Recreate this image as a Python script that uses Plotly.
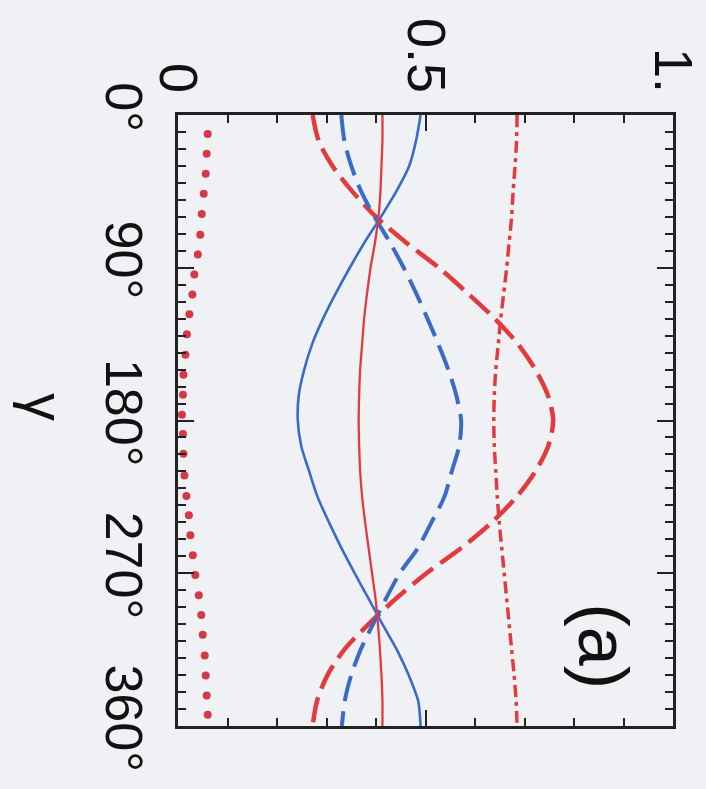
import plotly.graph_objects as go

# ---- data ----
gamma = [0, 15, 30, 45, 60, 75, 90, 105, 120, 135, 150, 165, 180,
         195, 210, 225, 240, 255, 270, 285, 300, 315, 330, 345, 360]

blue_solid = [0.490, 0.481, 0.467, 0.441, 0.410, 0.377, 0.347, 0.319, 0.293, 0.271, 0.255, 0.244, 0.242,
              0.249, 0.265, 0.282, 0.305, 0.330, 0.357, 0.385, 0.413, 0.442, 0.466, 0.485, 0.490]
blue_dashed = [0.330, 0.336, 0.350, 0.370, 0.397, 0.428, 0.456, 0.481, 0.504, 0.526, 0.546, 0.562, 0.572,
               0.568, 0.553, 0.538, 0.512, 0.485, 0.448, 0.420, 0.394, 0.369, 0.350, 0.337, 0.331]
red_solid = [0.413, 0.413, 0.411, 0.409, 0.405, 0.398, 0.389, 0.382, 0.376, 0.372, 0.368, 0.366, 0.365,
             0.366, 0.368, 0.372, 0.378, 0.385, 0.392, 0.399, 0.404, 0.408, 0.411, 0.413, 0.413]
red_dashed = [0.272, 0.284, 0.312, 0.352, 0.400, 0.460, 0.527, 0.585, 0.640, 0.687, 0.722, 0.747, 0.758,
              0.748, 0.722, 0.684, 0.634, 0.573, 0.502, 0.440, 0.385, 0.336, 0.302, 0.281, 0.272]
red_dashdot = [0.685, 0.684, 0.681, 0.677, 0.674, 0.669, 0.664, 0.658, 0.652, 0.647, 0.642, 0.639, 0.638,
               0.639, 0.642, 0.645, 0.649, 0.654, 0.659, 0.664, 0.669, 0.674, 0.679, 0.683, 0.685]

dot_gamma = [11.2, 22.9, 34.6, 46.4, 58.3, 70.5, 82.2, 94.0, 105.7, 117.4, 129.2, 141.3, 153.1, 164.8, 176.6,
             187.9, 199.6, 212.4, 224.5, 235.9, 247.6, 259.4, 271.1, 282.9, 294.6, 306.3, 318.5, 330.2, 342.0, 353.4]
dot_values = [0.060, 0.058, 0.056, 0.052, 0.048, 0.045, 0.040, 0.033, 0.029, 0.023, 0.018, 0.015, 0.011, 0.010, 0.008,
              0.010, 0.011, 0.013, 0.017, 0.022, 0.025, 0.030, 0.035, 0.042, 0.047, 0.050, 0.054, 0.056, 0.058, 0.060]

value_ticks = [0, 0.5, 1]
value_ticktext = ["0", "0.5", "1."]
gamma_ticks = [0, 90, 180, 270, 360]
gamma_ticktext = ["0°", "90°", "180°", "270°", "360°"]

RED = "#e23b3e"
BLUE = "#3b6cc5"
DOTRED = "#d33a48"
AX = "#222222"
BG = "#eff1f5"
FONT = "Liberation Sans, Arial, Helvetica, sans-serif"

fig = go.Figure()

def add_line(vals, color, width, dash):
    fig.add_trace(go.Scatter(
        x=vals, y=gamma, mode="lines",
        line=dict(color=color, width=width, dash=dash, shape="spline", smoothing=0.8),
        showlegend=False, hoverinfo="skip"))

add_line(red_dashdot, RED, 3.5, "12px,5px,4px,5px")
add_line(red_dashed, RED, 4.5, "26px,9px")
add_line(blue_dashed, BLUE, 4, "26px,10px")
add_line(blue_solid, BLUE, 2.6, "solid")
add_line(red_solid, RED, 2.3, "solid")

fig.add_trace(go.Scatter(
    x=dot_values, y=dot_gamma, mode="markers",
    marker=dict(color=DOTRED, size=8, line=dict(width=0)),
    showlegend=False, hoverinfo="skip"))

fig.add_annotation(
    text="γ", xref="paper", yref="paper", x=-0.336, y=0.522,
    showarrow=False, textangle=90, font=dict(family=FONT, size=56, color="#111"))
fig.add_annotation(
    text="(a)", xref="x", yref="y", x=0.858, y=313,
    showarrow=False, textangle=90, font=dict(family=FONT, size=70, color="#111"))

fig.update_layout(
    width=706, height=789,
    margin=dict(l=178, r=33, t=115, b=63),
    paper_bgcolor=BG, plot_bgcolor=BG,
    font=dict(family=FONT, color="#111"),
    xaxis=dict(
        range=[0, 1], side="top", showgrid=False, zeroline=False,
        showline=True, linecolor=AX, linewidth=3, mirror="ticks",
        ticks="inside", ticklen=16, tickwidth=2, tickcolor=AX,
        tickvals=value_ticks, ticktext=value_ticktext, tickangle=90,
        tickfont=dict(family=FONT, size=54, color="#111"),
        ticklabelstandoff=0,
        minor=dict(ticks="inside", ticklen=8, tickwidth=2, tickcolor=AX, dtick=0.1, tick0=0, showgrid=False),
        automargin=False, fixedrange=True),
    yaxis=dict(
        range=[360, 0], showgrid=False, zeroline=False,
        showline=True, linecolor=AX, linewidth=3, mirror="ticks",
        ticks="inside", ticklen=16, tickwidth=2, tickcolor=AX,
        tickvals=gamma_ticks, ticktext=gamma_ticktext, tickangle=90,
        tickfont=dict(family=FONT, size=52, color="#111"),
        ticklabelstandoff=7,
        minor=dict(ticks="inside", ticklen=8, tickwidth=2, tickcolor=AX, dtick=10, tick0=0, showgrid=False),
        automargin=False, fixedrange=True),
)

fig.write_html("out.html")
